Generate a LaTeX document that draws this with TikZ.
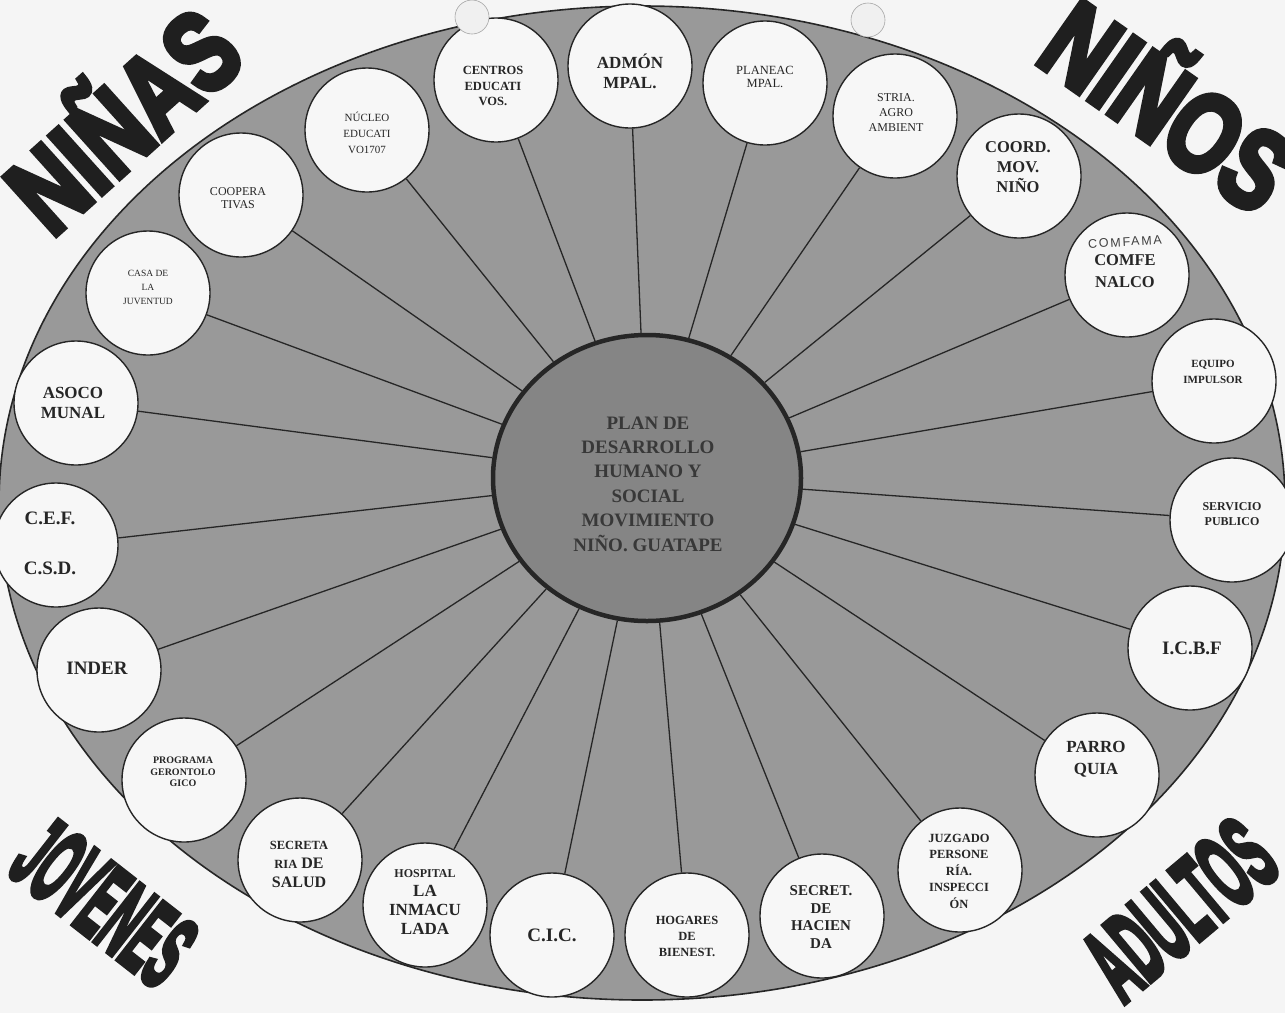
\documentclass[tikz,border=0pt]{standalone}
\usepackage{fontspec}
\usepackage{graphicx}
\setmainfont{Liberation Serif}
\newfontface\heavyfont[FakeBold=6]{Liberation Sans Bold}
\newfontface\handfont[LetterSpace=14]{Liberation Sans}
\usetikzlibrary{shapes.geometric}
\newcommand\fsz[2]{\fontsize{#1}{#2}\selectfont}
\begin{document}
\begin{tikzpicture}[
  x=1pt, y=-1pt,
  org/.style={circle, draw=black!85, line width=1.4pt, fill=black!3, minimum size=124pt, inner sep=0pt},
  lbl/.style={align=center, text=black!85, inner sep=0pt},
  spoke/.style={draw=black!85, line width=1.3pt},
  word/.style={text=black!88, inner sep=0pt, anchor=base},
  hole/.style={fill=black!6, draw=black!35, line width=0.6pt}
]
% background and bounding box
\fill[black!4] (0,0) rectangle (1285,1013);
\useasboundingbox (0,0) rectangle (1285,1013);

% big ellipse
\draw[fill=black!40, draw=black!85, line width=1.6pt] (642,503) ellipse [x radius=643pt, y radius=497pt];

% corner words
\node[word, rotate=42] (ninas) at (150,150) {\scalebox{0.76}[1]{\heavyfont\fsz{112}{112}NIÑAS}};
\node[word, rotate=-35] (ninos) at (1145,139) {\scalebox{0.77}[1]{\heavyfont\fsz{112}{112}NIÑOS}};
\node[word, rotate=-38] (jovenes) at (82,931) {\scalebox{0.39}[1]{\heavyfont\fsz{105}{105}JOVENES}};
\node[word, rotate=40] (adultos) at (1203,937) {\scalebox{0.42}[1]{\heavyfont\fsz{105}{105}ADULTOS}};

% central node
\node[ellipse, draw=black!85, line width=4.5pt, fill=black!48, minimum width=308pt, minimum height=286pt, inner sep=0pt] (cen) at (647,478) {};

% organisation circles
\node[org] (c01) at (496,80) {};
\node[org] (c02) at (630,66) {};
\node[org] (c03) at (765,83) {};
\node[org] (c04) at (895,116) {};
\node[org] (c05) at (1019,176) {};
\node[org] (c06) at (1127,275) {};
\node[org] (c07) at (1214,381) {};
\node[org] (c08) at (1232,520) {};
\node[org] (c09) at (1190,648) {};
\node[org] (c10) at (1097,775) {};
\node[org] (c11) at (960,870) {};
\node[org] (c12) at (822,916) {};
\node[org] (c13) at (687,935) {};
\node[org] (c14) at (552,935) {};
\node[org] (c15) at (425,905) {};
\node[org] (c16) at (300,860) {};
\node[org] (c17) at (184,780) {};
\node[org] (c18) at (99,670) {};
\node[org] (c19) at (56,545) {};
\node[org] (c20) at (76,403) {};
\node[org] (c21) at (148,293) {};
\node[org] (c22) at (241,195) {};
\node[org] (c23) at (367,130) {};

% spokes
\foreach \n in {c01,c02,c03,c04,c05,c06,c07,c08,c09,c10,c11,c12,c13,c14,c15,c16,c17,c18,c19,c20,c21,c22,c23}
  \draw[spoke] (cen) -- (\n);

% punched holes
\draw[hole] (472,17) circle [radius=17pt];
\draw[hole] (868,20) circle [radius=17pt];

% labels
\node[lbl, text=black!78, font=\bfseries\fsz{19}{24.4}] (tcen) at (648,484) {PLAN DE\\DESARROLLO\\HUMANO Y\\SOCIAL\\MOVIMIENTO\\NIÑO. GUATAPE};

\node[lbl, font=\bfseries\fsz{12.5}{15.5}] (t01) at (493,86) {CENTROS\\EDUCATI\\VOS.};
\node[lbl, font=\bfseries\fsz{17}{20}] (t02) at (630,71) {ADMÓN\\MPAL.};
\node[lbl, font=\fsz{12.5}{13.5}] (t03) at (765,77) {PLANEAC\\MPAL.};
\node[lbl, font=\fsz{12}{15}] (t04) at (896,113) {STRIA.\\AGRO\\AMBIENT};
\node[lbl, font=\bfseries\fsz{16.5}{20}] (t05) at (1018,167) {COORD.\\MOV.\\NIÑO};
\node[lbl, text=black!75, font=\handfont\fsz{12.5}{12.5}, rotate=3] (t06a) at (1125,242) {COMFAMA};
\node[lbl, font=\bfseries\fsz{16.5}{21.5}] (t06) at (1125,271) {COMFE\\NALCO};
\node[lbl, font=\bfseries\fsz{11}{16}] (t07) at (1213,372) {EQUIPO\\IMPULSOR};
\node[lbl, font=\bfseries\fsz{12}{15}] (t08) at (1232,514) {SERVICIO\\PUBLICO};
\node[lbl, font=\bfseries\fsz{19}{22}] (t09) at (1192,648) {I.C.B.F};
\node[lbl, font=\bfseries\fsz{17}{22}] (t10) at (1096,759) {PARRO\\QUIA};
\node[lbl, font=\bfseries\fsz{12.5}{16.5}] (t11) at (959,871) {JUZGADO\\PERSONE\\RÍA.\\INSPECCI\\ÓN};
\node[lbl, font=\bfseries\fsz{15}{17.5}] (t12) at (821,917) {SECRET.\\DE\\HACIEN\\DA};
\node[lbl, font=\bfseries\fsz{12.5}{16}] (t13) at (687,936) {HOGARES\\DE\\BIENEST.};
\node[lbl, font=\bfseries\fsz{19}{22}] (t14) at (552,935) {C.I.C.};
\node[lbl, font=\bfseries\fsz{17}{18.7}] (t15) at (425,902) {{\fsz{12}{18.7}HOSPITAL}\\LA\\INMACU\\LADA};
\node[lbl, font=\bfseries\fsz{16}{19}] (t16) at (299,864) {{\fsz{12.5}{19}SECRETA}\\{\fsz{12.5}{19}RIA} DE\\SALUD};
\node[lbl, font=\bfseries\fsz{10}{11.7}] (t17) at (183,772) {PROGRAMA\\GERONTOLO\\GICO};
\node[lbl, font=\bfseries\fsz{19}{22}] (t18) at (97,668) {INDER};
\node[lbl, font=\bfseries\fsz{19}{50}] (t19) at (50,543) {C.E.F.\\C.S.D.};
\node[lbl, font=\bfseries\fsz{17}{20}] (t20) at (73,403) {ASOCO\\MUNAL};
\node[lbl, font=\fsz{9.5}{14}] (t21) at (148,287) {CASA DE\\LA\\JUVENTUD};
\node[lbl, font=\fsz{12}{13.3}] (t22) at (238,198) {COOPERA\\TIVAS};
\node[lbl, font=\fsz{11}{16}] (t23) at (367,133) {NÚCLEO\\EDUCATI\\VO1707};
\end{tikzpicture}
\end{document}
